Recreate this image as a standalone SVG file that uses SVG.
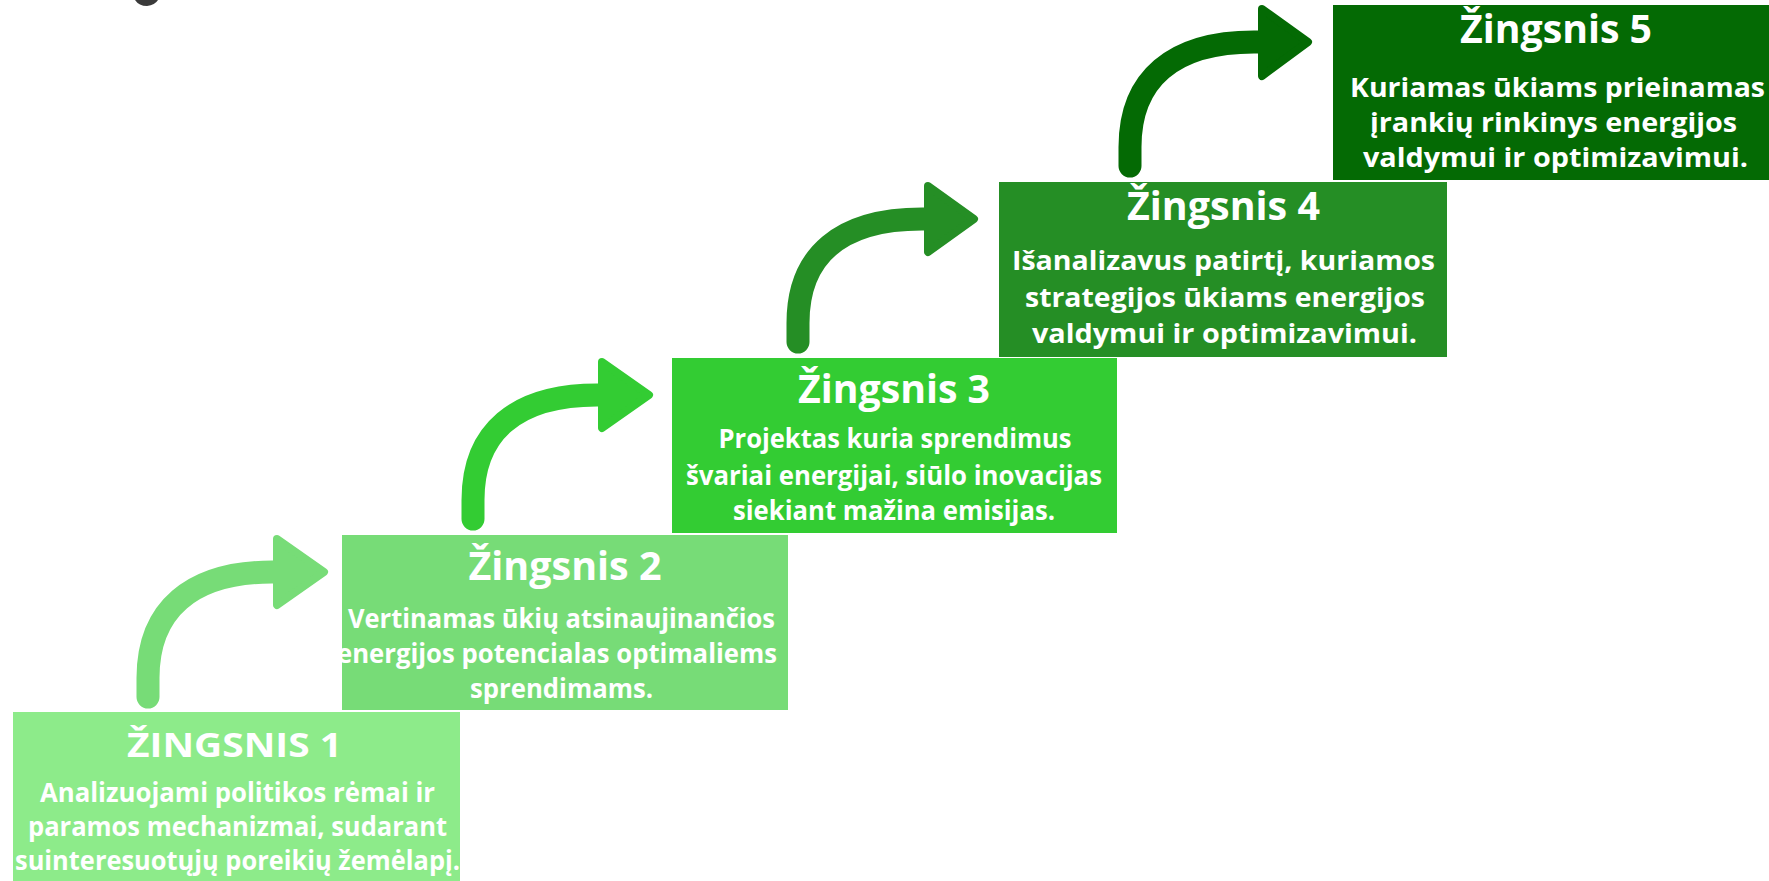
<svg xmlns="http://www.w3.org/2000/svg" width="1769" height="881" viewBox="0 0 1769 881">
<style>
.t{font-family:"Open Sans","Noto Sans","Liberation Sans",sans-serif;fill:#ffffff;text-anchor:middle;font-weight:700}
.h{font-size:39px}
.h1{font-size:34px}
.b{font-size:26px}
.c{font-size:27px}
.ch{font-size:39px}
.shaft{fill:none;stroke-width:23;stroke-linecap:round}
.head{stroke-width:8;stroke-linejoin:round}
</style>
<rect width="1769" height="881" fill="#ffffff"/>
<path d="M135,0 Q139,6 147,6 Q155,5 158,0 Z" fill="#3a3a3a"/>
<g id="step1">
<rect x="13" y="712" width="447" height="175" fill="#8deb8a"/>
<text class="t h1" x="234.5" y="757" textLength="215" lengthAdjust="spacingAndGlyphs">ŽINGSNIS 1</text>
<text class="t b" x="237.5" y="802" textLength="395" lengthAdjust="spacingAndGlyphs">Analizuojami politikos rėmai ir</text>
<text class="t b" x="237.5" y="836" textLength="419" lengthAdjust="spacingAndGlyphs">paramos mechanizmai, sudarant</text>
<text class="t b" x="237.5" y="870" textLength="445" lengthAdjust="spacingAndGlyphs">suinteresuotųjų poreikių žemėlapį.</text>
</g>
<g id="step2">
<rect x="342" y="535" width="446" height="175" fill="#77dc77"/>
<text class="t h" x="565" y="580" textLength="193" lengthAdjust="spacingAndGlyphs">Žingsnis 2</text>
<text class="t b" x="561.5" y="628" textLength="427" lengthAdjust="spacingAndGlyphs">Vertinamas ūkių atsinaujinančios</text>
<text class="t b" x="557" y="663" textLength="440" lengthAdjust="spacingAndGlyphs">energijos potencialas optimaliems</text>
<text class="t b" x="561.5" y="698" textLength="183" lengthAdjust="spacingAndGlyphs">sprendimams.</text>
</g>
<g id="step3">
<rect x="672" y="358" width="445" height="175" fill="#33cc33"/>
<text class="t h" x="894" y="403" textLength="192" lengthAdjust="spacingAndGlyphs">Žingsnis 3</text>
<text class="t b" x="895" y="448" textLength="353" lengthAdjust="spacingAndGlyphs">Projektas kuria sprendimus</text>
<text class="t b" x="894" y="485" textLength="416" lengthAdjust="spacingAndGlyphs">švariai energijai, siūlo inovacijas</text>
<text class="t b" x="894" y="520" textLength="322" lengthAdjust="spacingAndGlyphs">siekiant mažina emisijas.</text>
</g>
<g id="step4">
<rect x="999" y="182" width="448" height="175" fill="#258e25"/>
<text class="t ch" x="1223.5" y="220" textLength="193" lengthAdjust="spacingAndGlyphs">Žingsnis 4</text>
<text class="t c" x="1223.5" y="270" textLength="423" lengthAdjust="spacingAndGlyphs">Išanalizavus patirtį, kuriamos</text>
<text class="t c" x="1225" y="307" textLength="400" lengthAdjust="spacingAndGlyphs">strategijos ūkiams energijos</text>
<text class="t c" x="1224.5" y="343" textLength="385" lengthAdjust="spacingAndGlyphs">valdymui ir optimizavimui.</text>
</g>
<g id="step5">
<rect x="1333" y="5" width="446" height="175" fill="#046a04"/>
<text class="t ch" x="1556" y="43" textLength="192" lengthAdjust="spacingAndGlyphs">Žingsnis 5</text>
<text class="t c" x="1557.5" y="97" textLength="415" lengthAdjust="spacingAndGlyphs">Kuriamas ūkiams prieinamas</text>
<text class="t c" x="1553.5" y="132" textLength="367" lengthAdjust="spacingAndGlyphs">įrankių rinkinys energijos</text>
<text class="t c" x="1555.5" y="167" textLength="385" lengthAdjust="spacingAndGlyphs">valdymui ir optimizavimui.</text>
</g>
<g id="connectors">
<g stroke="#77dc77" fill="#77dc77">
<path class="shaft" d="M148,697 V678 C148,610 191,572 272,572 H280"/>
<polygon class="head" points="277,539 324,572 277,605"/>
</g>
<g stroke="#33cc33" fill="#33cc33">
<path class="shaft" d="M473,519 V500 C473,432 516,395 597,395 H605"/>
<polygon class="head" points="602,362 649,395 602,428"/>
</g>
<g stroke="#258e25" fill="#258e25">
<path class="shaft" d="M798,342 V323 C798,255 841,219 922,219 H930"/>
<polygon class="head" points="928,186 974,219 928,252"/>
</g>
<g stroke="#046a04" fill="#046a04">
<path class="shaft" d="M1130,166 V147 C1130,79 1173,42 1254,42 H1263"/>
<polygon class="head" points="1262,9 1308,42 1262,76"/>
</g>
</g>
</svg>
